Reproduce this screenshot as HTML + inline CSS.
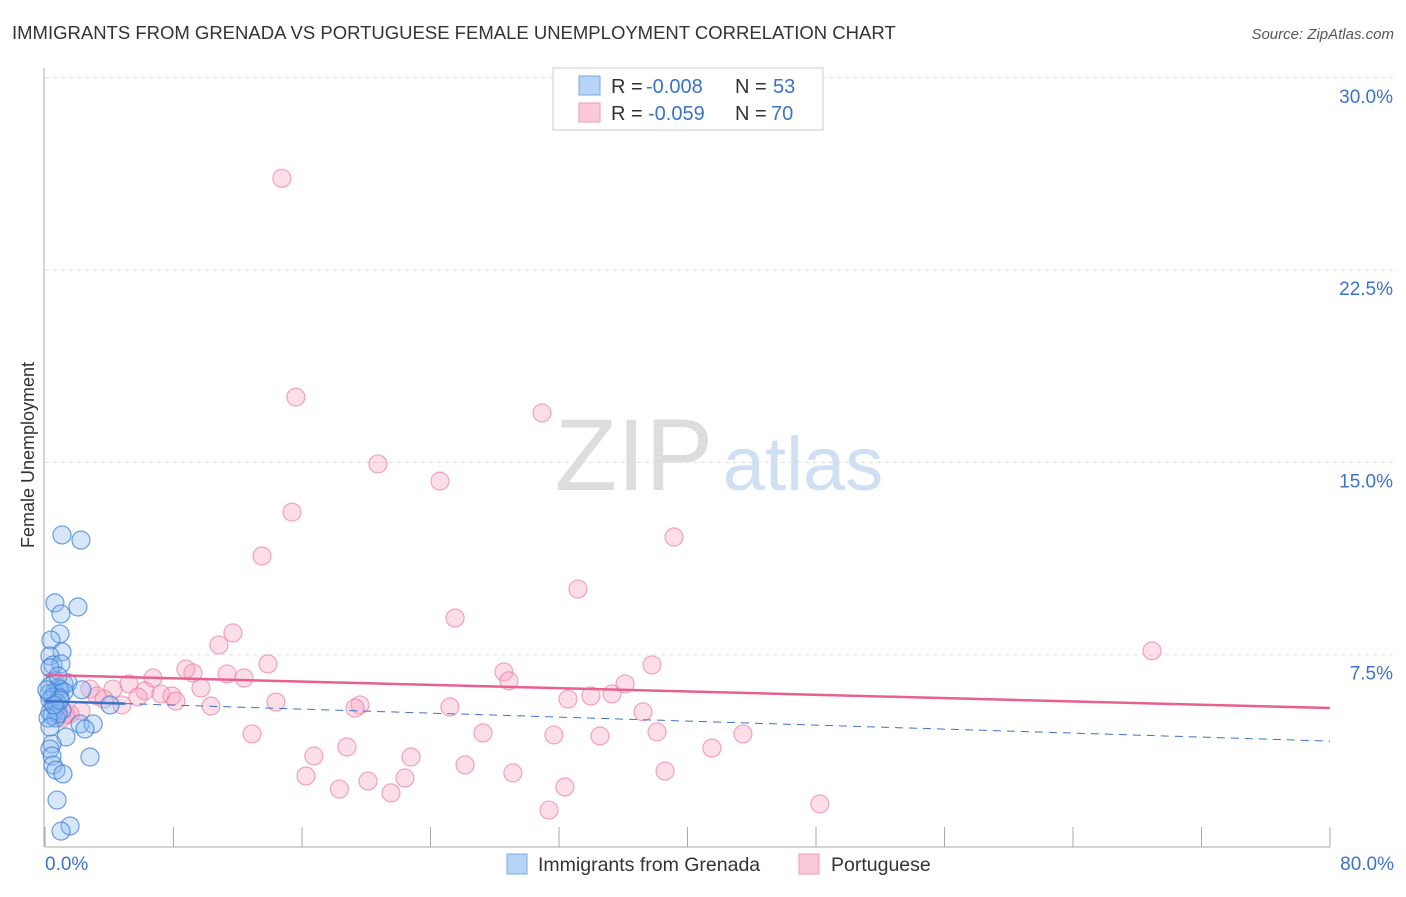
<!DOCTYPE html>
<html><head><meta charset="utf-8"><style>
body{margin:0;background:#fff;font-family:"Liberation Sans",sans-serif;}
svg text{font-family:"Liberation Sans",sans-serif;}
</style></head><body>
<svg id="c" width="1406" height="892">
<text x="12" y="39" font-size="18.5" fill="#333">IMMIGRANTS FROM GRENADA VS PORTUGUESE FEMALE UNEMPLOYMENT CORRELATION CHART</text>
<text x="1394" y="39" font-size="15" fill="#555" font-style="italic" text-anchor="end">Source: ZipAtlas.com</text>
<text x="634" y="490" font-size="102" fill="#ddd" font-family="Liberation Serif,serif" text-anchor="middle">ZIP</text>
<text x="803" y="490" font-size="76" fill="#cfe0f3" text-anchor="middle">atlas</text>
<g id="grid"></g><g id="axes"></g><g id="pts"></g><g id="trend"></g>
<text x="34" y="455" font-size="18" fill="#333" transform="rotate(-90 34 455)" text-anchor="middle">Female Unemployment</text>
<text x="45" y="870" font-size="19" fill="#3b73c8">0.0%</text>
<text x="1394" y="870" font-size="19" fill="#3b73c8" text-anchor="end">80.0%</text>
<g>
<rect x="553" y="68" width="270" height="62" fill="#fff" stroke="#ccc"/>
<rect x="579" y="76" width="21" height="19" fill="#b7d3f5" stroke="#7aa8e6"/>
<rect x="579" y="103" width="21" height="19" fill="#fbc9d8" stroke="#f09ab5"/>
<text x="611" y="93" font-size="20" fill="#333">R =</text>
<text x="646" y="93" font-size="20" fill="#3b73c8">-0.008</text>
<text x="735" y="93" font-size="20" fill="#333">N =</text>
<text x="773" y="93" font-size="20" fill="#3b73c8">53</text>
<text x="611" y="120" font-size="20" fill="#333">R =</text>
<text x="648" y="120" font-size="20" fill="#3b73c8">-0.059</text>
<text x="735" y="120" font-size="20" fill="#333">N =</text>
<text x="771" y="120" font-size="20" fill="#3b73c8">70</text>
</g>
<g>
<rect x="507" y="854" width="20" height="20" fill="#b7d3f5" stroke="#7aa8e6"/>
<text x="538" y="871" font-size="19.5" fill="#333">Immigrants from Grenada</text>
<rect x="799" y="854" width="20" height="20" fill="#fbc9d8" stroke="#f09ab5"/>
<text x="831" y="871" font-size="19.5" fill="#333">Portuguese</text>
</g>
</svg>
<script>
const yTicks=[7.5,15,22.5,30];
const yTickLabels=["7.5%","15.0%","22.5%","30.0%"];
const xTicks=[0,8,16,24,32,40,48,56,64,72,80];
const blueX=[1.06,2.24,0.62,2.05,0.99,0.93,0.37,1.06,0.31,0.50,0.99,0.31,0.62,1.18,1.43,0.31,0.81,0.62,0.93,0.25,1.18,2.30,0.50,0.93,0.31,0.75,4.05,0.68,1.06,0.31,0.44,0.68,0.81,2.18,3.00,2.49,1.31,0.44,0.31,0.44,2.80,0.50,0.68,1.12,0.75,1.56,1.00,0.19,0.31,0.93,0.56,0.12,0.81];
const blueY=[12.17,11.97,9.52,9.36,9.09,8.31,8.07,7.61,7.45,7.10,7.14,6.99,6.48,6.36,6.40,6.28,6.20,6.05,6.13,5.97,6.05,6.13,5.85,5.81,5.73,5.62,5.54,5.42,5.34,5.26,5.11,5.03,5.19,4.80,4.80,4.60,4.29,4.02,3.82,3.55,3.51,3.20,3.00,2.85,1.83,0.82,0.62,5.03,4.68,5.73,5.54,6.13,6.67];
const pinkX=[14.75,15.62,30.94,20.73,24.59,15.38,39.16,13.51,33.18,25.53,11.70,10.83,68.92,37.79,13.88,8.77,9.21,28.57,11.33,6.72,12.39,28.88,36.11,5.23,2.80,4.23,6.22,9.71,7.22,7.90,5.79,8.15,3.24,3.67,35.30,33.99,32.56,14.38,10.33,4.79,19.61,19.30,25.21,37.23,2.24,0.81,1.31,27.27,38.10,12.89,31.68,34.55,43.45,18.80,41.52,16.74,22.79,26.15,16.25,29.13,38.60,22.41,20.11,18.33,21.54,32.37,48.24,31.38,1.06,1.56];
const pinkY=[26.08,17.55,16.93,14.94,14.27,13.06,12.09,11.35,10.06,8.93,8.35,7.88,7.65,7.10,7.14,6.94,6.79,6.83,6.75,6.59,6.59,6.48,6.36,6.36,6.16,6.16,6.09,6.20,5.97,5.89,5.85,5.69,5.89,5.77,5.97,5.89,5.77,5.65,5.50,5.54,5.54,5.42,5.46,5.27,5.31,5.31,5.15,4.45,4.49,4.41,4.37,4.33,4.41,3.90,3.86,3.55,3.51,3.20,2.77,2.89,2.96,2.69,2.57,2.26,2.11,2.34,1.68,1.44,5.03,5.19];
const blueTrend=[5.69,4.13];
const pinkTrend=[6.71,5.42];
const NS="http://www.w3.org/2000/svg";
const X=v=>45+v/80*1285;
const Y=v=>847-v/7.5*192.3;
function mk(p,t,a){const e=document.createElementNS(NS,t);for(const k in a)e.setAttribute(k,a[k]);document.getElementById(p).appendChild(e);return e;}
yTicks.forEach((t,i)=>{
 const l=mk('grid','line',{x1:45,x2:1394,y1:Y(t),y2:Y(t),stroke:'#ddd','stroke-dasharray':'4,4'});
 
 
 const tx=mk('grid','text',{x:1393,y:Y(t)+25,'font-size':19,fill:'#3b73c8','text-anchor':'end'});
 tx.textContent=yTickLabels[i];
 
 
});
const ya=mk('axes','line',{x1:44,x2:44,y1:68,y2:847,stroke:'#aaa'});


const xa=mk('axes','line',{x1:45,x2:1330,y1:847,y2:847,stroke:'#aaa'});


xTicks.forEach(t=>{
 const l=mk('axes','line',{x1:X(t),x2:X(t),y1:827,y2:847,stroke:'#aaa'});
 
 
});
pinkX.forEach((x,i)=>{
 const c=mk('pts','circle',{cx:X(x),cy:Y(pinkY[i]),r:9,fill:'rgba(246,160,188,0.35)',stroke:'rgba(236,130,165,0.7)','stroke-width':1.2});
 
 
});
blueX.forEach((x,i)=>{
 const c=mk('pts','circle',{cx:X(x),cy:Y(blueY[i]),r:9,fill:'rgba(140,185,240,0.35)',stroke:'rgba(60,125,215,0.75)','stroke-width':1.2});
 
 
});
const by=x=>blueTrend[0]+(blueTrend[1]-blueTrend[0])*x/80;
const b1=mk('trend','line',{x1:X(0),x2:X(5),y1:Y(by(0)),y2:Y(by(5)),stroke:'#3b73c8','stroke-width':2.5});


const b2=mk('trend','line',{x1:X(5),x2:X(80),y1:Y(by(5)),y2:Y(by(80)),stroke:'#3b73c8','stroke-width':1,'stroke-dasharray':'8,6'});


const p1=mk('trend','line',{x1:X(0),x2:X(80),y1:Y(pinkTrend[0]),y2:Y(pinkTrend[1]),stroke:'#e8608f','stroke-width':2.5});


</script>
</body></html>
